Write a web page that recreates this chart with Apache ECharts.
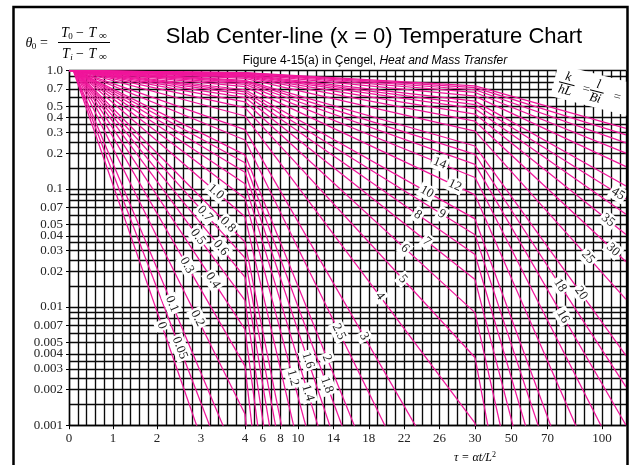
<!DOCTYPE html>
<html><head><meta charset="utf-8">
<script src="https://cdn.jsdelivr.net/npm/echarts@6/dist/echarts.min.js"></script>
<style>html,body{margin:0;padding:0;background:#fff}#c{width:632px;height:465px}</style>
</head><body><div id="c"></div>
<script>
// ---- data (k/hL curves) ----
const curveNames = ['0','0.05','0.1','0.2','0.3','0.4','0.5','0.6','0.7','0.8','1.0','1.2','1.4','1.6','1.8','2','2.5','3','4','5','6','7','8','9','10','12','14','16','18','20','25','30','35','40','45','50','60','70','80','90','100'];
const tauNodes = [0, 4, 30, 113.2];
const thetaAtTau0 = [1.273,1.270,1.262,1.240,1.218,1.196,1.179,1.162,1.149,1.138,1.119,1.105,1.093,1.084,1.077,1.070,1.058,1.049,1.038,1.031,1.026,1.023,1.020,1.018,1.016,1.014,1.012,1.010,1.009,1.008,1.007,1.006,1.005,1.004,1.004,1.003,1.003,1.001,1.001,1.001,1.001];
const thetaAtTau4 = [6.6e-5,1.64e-4,3.58e-4,1.245e-3,3.16e-3,6.48e-3,0.01139,0.01789,0.02606,0.03548,0.05799,0.0834,0.1107,0.1383,0.1662,0.194,0.259,0.317,0.4136,0.4874,0.5453,0.5926,0.6312,0.6633,0.6899,0.7326,0.7655,0.7910,0.8113,0.828,0.8597,0.8813,0.8971,0.9093,0.9188,0.9264,0.9384,0.9469,0.9535,0.9585,0.9625];
const thetaAtTau30 = [null,null,null,3.2e-23,4.9e-20,1.2e-17,9.1e-16,2.9e-14,5.3e-13,5.8e-12,2.55e-10,4.25e-9,3.8e-8,2.12e-7,8.8e-7,2.93e-6,2.76e-5,1.32e-4,1.043e-3,3.74e-3,8.97e-3,0.01708,0.02786,0.04097,0.05568,0.0889,0.1247,0.1611,0.1962,0.2305,0.3079,0.3737,0.4298,0.4773,0.5171,0.5524,0.6100,0.6542,0.6899,0.7187,0.7428];
const thetaAtTauEnd = [null,null,null,null,null,null,null,null,null,null,null,null,null,null,null,null,null,null,5e-12,6.6e-10,1.8e-8,2.07e-7,1.3e-6,5.65e-6,1.8e-5,1.06e-4,3.8e-4,1.0e-3,2.11e-3,3.88e-3,0.01161,0.02416,0.04105,0.06095,0.08253,0.1059,0.1542,0.2009,0.2454,0.2868,0.3246];

const yGridValues = [1,0.9,0.8,0.7,0.6,0.5,0.4,0.35,0.3,0.25,0.2,0.15,0.1,0.09,0.08,0.07,0.06,0.05,0.04,0.035,0.03,0.025,0.02,0.015,0.01,0.009,0.008,0.007,0.006,0.005,0.004,0.0035,0.003,0.0025,0.002,0.0015,0.001];
const yTickLabels = [1,0.7,0.5,0.4,0.3,0.2,0.1,0.07,0.05,0.04,0.03,0.02,0.01,0.007,0.005,0.004,0.003,0.002,0.001];
const xTickLabelsA = [0,1,2,3,4];
const xTickLabelsB = [6,8,10,14,18,22,26,30];
const xTickLabelsC = [50,70,100];

const curveLabelNames = ['0','0.05','0.1','0.2','0.3','0.4','0.5','0.6','0.7','0.8','1.0','1.2','1.4','1.6','1.8','2','2.5','3','4','5','6','7','8','9','10','12','14','16','18','20','25','30','35','45'];
const curveLabelTau = [2.11,2.52,2.34,2.92,2.68,3.27,2.93,3.45,3.09,3.61,3.34,9.42,11.12,11.12,13.27,13.27,14.62,17.45,19.25,21.85,22.08,24.56,23.55,26.26,24.56,27.73,26.03,78.5,76.9,88.4,92.3,106.1,103.3,108.8];

// ---- styling ----
const serif = '"Liberation Serif","DejaVu Serif",serif';
const sans = '"Liberation Sans",Arial,sans-serif';
const PINK = '#f0169b';
const GRIDC = '#0a0a0a';

const chart = echarts.init(document.getElementById('c'), null, {renderer: 'canvas'});
const gridBoxes = [
  {left: 69, top: 70.7, width: 176, height: 354.5},
  {left: 245, top: 70.7, width: 230, height: 354.5},
  {left: 475, top: 70.7, width: 151, height: 354.5}
];
const segInterval = [0.2, 1, 5];
const labelSets = [xTickLabelsA, xTickLabelsB, xTickLabelsC];
const thetaCols = [thetaAtTau0, thetaAtTau4, thetaAtTau30, thetaAtTauEnd];

const xAxis = [], yAxis = [], series = [];
for (let g = 0; g < 3; g++) {
  xAxis.push({type: 'value', gridIndex: g, position: 'bottom', min: tauNodes[g], max: tauNodes[g + 1], interval: segInterval[g],
    axisLine: {show: true, onZero: false, lineStyle: {color: '#000', width: 1.4}}, axisTick: {show: false}, axisLabel: {show: false},
    splitLine: {show: true, lineStyle: {color: GRIDC, width: 1.35}}});
}
for (let g = 0; g < 3; g++) {
  xAxis.push({type: 'value', gridIndex: g, position: 'bottom', min: tauNodes[g], max: tauNodes[g + 1],
    axisLine: {show: false, onZero: false}, axisTick: {show: true, length: 4, customValues: labelSets[g], lineStyle: {color: '#000'}},
    axisLabel: {show: true, customValues: labelSets[g], margin: 7, fontFamily: serif, fontSize: 13, color: '#222'},
    splitLine: {show: false}});
}
for (let g = 0; g < 3; g++) {
  yAxis.push({type: 'log', logBase: 10, gridIndex: g, position: 'left', min: 0.001, max: 1,
    axisLine: {show: g === 0, onZero: false, lineStyle: {color: '#000', width: 1.4}}, axisTick: {show: false, customValues: yGridValues},
    axisLabel: {show: false}, splitLine: {show: true, lineStyle: {color: GRIDC, width: 1.35}}});
}
yAxis.push({type: 'log', logBase: 10, gridIndex: 0, position: 'left', min: 0.001, max: 1,
  axisLine: {show: false}, axisTick: {show: true, length: 3, customValues: yTickLabels, lineStyle: {color: '#000'}},
  axisLabel: {customValues: yTickLabels, margin: 6, fontFamily: serif, fontSize: 13, color: '#222',
    formatter: v => (Math.abs(v - 1) < 1e-9 ? '1.0' : String(+v.toPrecision(3)))},
  splitLine: {show: false}});

for (let i = 0; i < curveNames.length; i++) {
  for (let g = 0; g < 3; g++) {
    const a = thetaCols[g][i], b = thetaCols[g + 1][i];
    if (a == null || b == null || a < 0.001) continue;
    series.push({type: 'line', xAxisIndex: g, yAxisIndex: g, data: [[tauNodes[g], a], [tauNodes[g + 1], b]],
      symbol: 'none', silent: true, clip: true, z: 3, lineStyle: {color: PINK, width: 1.25}});
  }
}

chart.setOption({animation: false, grid: gridBoxes, xAxis, yAxis, series});

// ---- text & labels ----
function t(x, y, text, font, extra) {
  return Object.assign({type: 'text', x, y, z: 60, style: {text, font, fill: '#000', align: 'center', verticalAlign: 'middle'}}, extra || {});
}
const graphics = [];
graphics.push(t(374, 37, 'Slab Center-line (x = 0) Temperature Chart', '22px ' + sans));
graphics.push({type: 'text', x: 375, y: 61, z: 60, style: {
  text: '{n|Figure 4-15(a) in Çengel, }{i|Heat and Mass Transfer}', align: 'center', verticalAlign: 'middle',
  rich: {n: {fontFamily: sans, fontSize: 12, color: '#000'}, i: {fontFamily: sans, fontSize: 12, fontStyle: 'italic', color: '#000'}}}});
// theta_0 formula
graphics.push(t(29, 43, 'θ', 'italic 14px ' + serif));
graphics.push(t(34, 47, '0', '9px ' + serif));
graphics.push(t(44, 43, '=', '14px ' + serif));
graphics.push(t(65, 33, 'T', 'italic 14px ' + serif));
graphics.push(t(70.5, 36.5, '0', '9px ' + serif));
graphics.push(t(80, 33, '−', '14px ' + serif));
graphics.push(t(92.5, 33, 'T', 'italic 14px ' + serif));
graphics.push(t(103, 36.5, '∞', '11px ' + serif));
graphics.push({type: 'line', z: 60, shape: {x1: 58, y1: 42.5, x2: 110, y2: 42.5}, style: {stroke: '#000', lineWidth: 1}});
graphics.push(t(66, 54, 'T', 'italic 14px ' + serif));
graphics.push(t(71.5, 57.5, 'i', 'italic 9px ' + serif));
graphics.push(t(80, 54, '−', '14px ' + serif));
graphics.push(t(92.5, 54, 'T', 'italic 14px ' + serif));
graphics.push(t(103, 57.5, '∞', '11px ' + serif));
// axis title
graphics.push({type: 'text', x: 475, y: 458, z: 60, style: {text: '{a|τ = αt/L}{s|2}', align: 'center', verticalAlign: 'middle',
  rich: {a: {fontFamily: serif, fontStyle: 'italic', fontSize: 12, color: '#000'}, s: {fontFamily: serif, fontSize: 8, color: '#000', verticalAlign: 'top', padding: [0, 0, 6, 0]}}}});
// k/hL = 1/Bi =
graphics.push({type: 'group', x: 591, y: 90, rotation: -0.25, z: 55, children: [
  {type: 'rect', z: 55, shape: {x: -38, y: -17, width: 82, height: 33}, style: {fill: '#fff'}},
  t(-25, -7, 'k', 'italic 13px ' + serif), t(-25, 7, 'hL', 'italic 13px ' + serif),
  {type: 'line', z: 60, shape: {x1: -33, y1: 0, x2: -17, y2: 0}, style: {stroke: '#000', lineWidth: 1}},
  t(-5, 0.5, '=', '13px ' + serif),
  t(6, -7, 'l', 'italic 13px ' + serif), t(6, 7, 'Bi', 'italic 13px ' + serif),
  {type: 'line', z: 60, shape: {x1: -1, y1: 0, x2: 13, y2: 0}, style: {stroke: '#000', lineWidth: 1}},
  t(27, 0.5, '=', '13px ' + serif)
]});
// curve labels along lines
for (let k = 0; k < curveLabelNames.length; k++) {
  const name = curveLabelNames[k], tau = curveLabelTau[k];
  const i = curveNames.indexOf(name);
  const g = tau < tauNodes[1] ? 0 : (tau < tauNodes[2] ? 1 : 2);
  const p0 = chart.convertToPixel({xAxisIndex: g, yAxisIndex: g}, [tauNodes[g], thetaCols[g][i]]);
  const p1 = chart.convertToPixel({xAxisIndex: g, yAxisIndex: g}, [tauNodes[g + 1], thetaCols[g + 1][i]]);
  const f = (tau - tauNodes[g]) / (tauNodes[g + 1] - tauNodes[g]);
  const x = p0[0] + f * (p1[0] - p0[0]), y = p0[1] + f * (p1[1] - p0[1]);
  const ang = Math.atan2(p1[1] - p0[1], p1[0] - p0[0]);
  graphics.push({type: 'text', x, y, rotation: -ang, z: 50, style: {text: name, font: '13px ' + serif, fill: '#222',
    align: 'center', verticalAlign: 'middle', backgroundColor: '#fff', padding: [1, 2]}});
}
// outer frame
graphics.push({type: 'rect', z: 100, shape: {x: 13.5, y: 7, width: 614, height: 480}, style: {fill: null, stroke: '#000', lineWidth: 2.5}});

chart.setOption({graphic: graphics});
</script>
</body></html>
